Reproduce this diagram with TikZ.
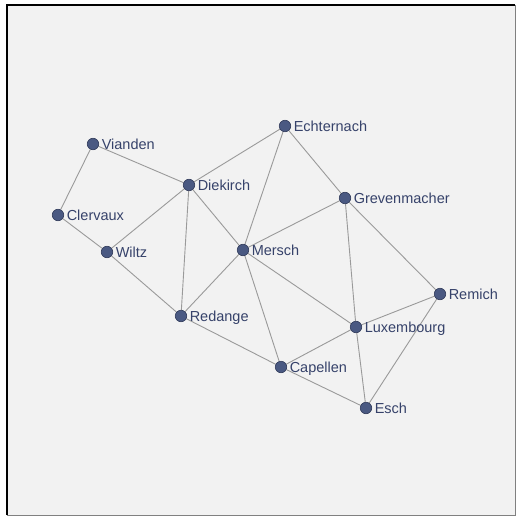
\documentclass[tikz,border=0pt]{standalone}
\usepackage{fontspec}
\setmainfont{Liberation Sans}
\usetikzlibrary{backgrounds}

\definecolor{paneback}{HTML}{F2F2F2}
\definecolor{townfill}{HTML}{4A5982}
\definecolor{townline}{HTML}{2E3858}
\definecolor{townink}{HTML}{36426A}
\definecolor{roadgray}{HTML}{9A9A9A}

\tikzset{
	town/.style={circle, fill=townfill, draw=townline, line width=0.6pt, minimum size=11.5pt, inner sep=0pt},
	townname/.style={text=townink, font=\fontsize{14.5}{16}\selectfont, inner sep=2.5pt, anchor=base west, yshift=-5.2pt},
	road/.style={draw=roadgray, line width=0.9pt}
}

\begin{document}
\begin{tikzpicture}[x=1pt, y=-1pt]
			\useasboundingbox (0, 0) rectangle (516, 516);
			\begin{scope}[on background layer]
				\fill[white] (0, 0) rectangle (516, 516);
				\fill[paneback] (7, 5) rectangle (515, 515);
				\draw[gray, line width=0.8pt] (515, 5) -- (515, 515) -- (7, 515);
				\draw[black, line width=1.6pt] (7, 515) -- (7, 5) -- (515, 5);
			\end{scope}

			\node[town, label={[townname]right:Vianden}] (vianden) at (93, 144) {};
			\node[town, label={[townname]right:Diekirch}] (diekirch) at (189, 185) {};
			\node[town, label={[townname]right:Clervaux}] (clervaux) at (58, 215) {};
			\node[town, label={[townname]right:Wiltz}] (wiltz) at (107, 252) {};
			\node[town, label={[townname]right:Echternach}] (echternach) at (285, 126) {};
			\node[town, label={[townname]right:Grevenmacher}] (grevenmacher) at (345, 198) {};
			\node[town, label={[townname]right:Mersch}] (mersch) at (243, 250) {};
			\node[town, label={[townname]right:Redange}] (redange) at (181, 316) {};
			\node[town, label={[townname]right:Remich}] (remich) at (440, 294) {};
			\node[town, label={[townname]right:Luxembourg}] (luxembourg) at (356, 327) {};
			\node[town, label={[townname]right:Capellen}] (capellen) at (281, 367) {};
			\node[town, label={[townname]right:Esch}] (esch) at (366, 408) {};

			\begin{scope}[on background layer]
				\draw[road] (vianden) -- (clervaux);
				\draw[road] (vianden) -- (diekirch);
				\draw[road] (clervaux) -- (wiltz);
				\draw[road] (wiltz) -- (diekirch);
				\draw[road] (wiltz) -- (redange);
				\draw[road] (diekirch) -- (echternach);
				\draw[road] (diekirch) -- (mersch);
				\draw[road] (diekirch) -- (redange);
				\draw[road] (echternach) -- (mersch);
				\draw[road] (echternach) -- (grevenmacher);
				\draw[road] (grevenmacher) -- (mersch);
				\draw[road] (grevenmacher) -- (luxembourg);
				\draw[road] (grevenmacher) -- (remich);
				\draw[road] (mersch) -- (redange);
				\draw[road] (mersch) -- (luxembourg);
				\draw[road] (mersch) -- (capellen);
				\draw[road] (redange) -- (capellen);
				\draw[road] (capellen) -- (luxembourg);
				\draw[road] (capellen) -- (esch);
				\draw[road] (luxembourg) -- (esch);
				\draw[road] (luxembourg) -- (remich);
				\draw[road] (remich) -- (esch);
			\end{scope}
		\end{tikzpicture}
\end{document}
